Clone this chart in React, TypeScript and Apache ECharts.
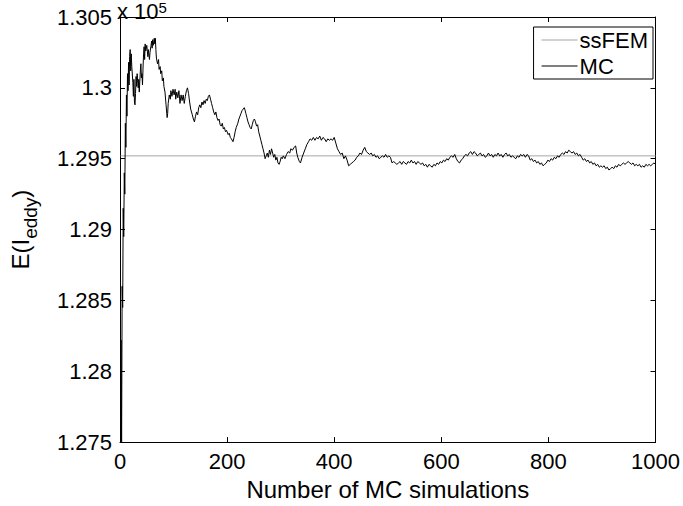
import React, { useEffect, useRef } from "react";
import * as echarts from "echarts";

// Number of MC simulations (x) and running mean E(I_eddy) in units of 1e5 (y)
const mcN = [
  1, 2, 3, 4, 5, 6, 7, 8, 9, 10, 11, 12, 13, 14, 15, 16, 17, 18, 19, 20,
  21, 22, 24, 25, 26, 27, 28, 29, 30, 31, 32, 34, 35, 36, 38, 39, 40, 41, 42, 43,
  44, 45, 46, 47, 48, 50, 52, 53, 55, 56, 58, 59, 60, 61, 62, 64, 65, 66, 67, 68,
  70, 72, 73, 75, 76, 78, 79, 81, 82, 84, 86, 88, 89, 90, 92, 94, 95, 97, 99, 101,
  103, 104, 106, 108, 110, 112, 114, 116, 118, 120, 122, 124, 126, 128, 130, 132, 135, 137, 139, 141,
  143, 145, 147, 149, 151, 153, 155, 157, 159, 161, 163, 165, 167, 169, 171, 173, 175, 177, 179, 181,
  183, 185, 187, 189, 191, 193, 195, 197, 199, 202, 204, 206, 208, 211, 213, 215, 217, 220, 222, 224,
  226, 228, 230, 232, 233, 235, 237, 239, 241, 243, 245, 247, 249, 251, 253, 255, 257, 259, 261, 263,
  265, 267, 269, 271, 273, 275, 277, 279, 281, 283, 285, 287, 289, 291, 293, 295, 297, 299, 301, 303,
  305, 308, 311, 314, 317, 319, 322, 325, 328, 330, 332, 335, 337, 340, 343, 346, 349, 352, 355, 358,
  361, 364, 367, 370, 373, 376, 379, 382, 385, 388, 391, 394, 397, 400, 403, 406, 409, 412, 415, 418,
  421, 424, 427, 430, 433, 436, 439, 442, 445, 448, 451, 454, 457, 460, 463, 466, 469, 472, 475, 478,
  481, 484, 487, 490, 493, 496, 499, 502, 505, 508, 511, 514, 517, 520, 523, 526, 529, 532, 535, 538,
  541, 544, 547, 550, 553, 556, 559, 562, 565, 568, 571, 574, 577, 580, 583, 586, 589, 592, 595, 598,
  601, 604, 607, 610, 613, 616, 619, 622, 625, 628, 631, 634, 637, 640, 643, 646, 649, 652, 655, 658,
  661, 664, 667, 670, 673, 676, 679, 682, 685, 688, 691, 694, 697, 700, 703, 706, 709, 712, 715, 718,
  721, 724, 727, 730, 733, 736, 739, 742, 745, 748, 751, 754, 757, 760, 763, 766, 769, 772, 775, 778,
  781, 784, 787, 790, 793, 796, 799, 802, 805, 808, 811, 814, 817, 820, 823, 826, 829, 832, 835, 838,
  841, 844, 847, 850, 853, 856, 859, 862, 865, 868, 871, 874, 877, 880, 883, 886, 889, 892, 895, 898,
  901, 904, 907, 910, 913, 916, 919, 922, 925, 928, 931, 934, 937, 940, 943, 946, 949, 952, 955, 958,
  961, 964, 967, 970, 973, 976, 979, 982, 985, 988, 991, 994, 997, 1000,
];

const mcE = [
  1.2690, 1.2822, 1.2745, 1.2860, 1.2845, 1.2915, 1.2895, 1.2940, 1.2925, 1.2975, 1.2958, 1.2995, 1.2980, 1.3010, 1.2998, 1.3018, 1.3002, 1.3022, 1.3027, 1.3012,
  1.3024, 1.3015, 1.3004, 1.2994, 1.3006, 1.2990, 1.2988, 1.2996, 1.3008, 1.3001, 1.3010, 1.3000, 1.3006, 1.2997, 1.3012, 1.3017, 1.3007, 1.3010, 1.3002, 1.3014,
  1.3024, 1.3029, 1.3020, 1.3031, 1.3026, 1.3030, 1.3022, 1.3027, 1.3020, 1.3025, 1.3030, 1.3033, 1.3028, 1.3034, 1.3030, 1.3035, 1.3031, 1.3035, 1.3027, 1.3021,
  1.3017, 1.3020, 1.3013, 1.3015, 1.3010, 1.3012, 1.3005, 1.3007, 1.3001, 1.2997, 1.2988, 1.2979, 1.2982, 1.2989, 1.2995, 1.2992, 1.2998, 1.2994, 1.2999, 1.2995,
  1.2999, 1.2992, 1.2997, 1.2993, 1.2998, 1.2989, 1.2995, 1.2991, 1.2995, 1.2989, 1.2994, 1.2998, 1.3000, 1.2996, 1.2990, 1.2985, 1.2981, 1.2978, 1.2976, 1.2980,
  1.2983, 1.2981, 1.2986, 1.2988, 1.2986, 1.2990, 1.2988, 1.2991, 1.2989, 1.2992, 1.2991, 1.2994, 1.2995, 1.2992, 1.2989, 1.2986, 1.2983, 1.2981, 1.2983, 1.2979,
  1.2977, 1.2978, 1.2974, 1.2973, 1.2975, 1.2971, 1.2972, 1.2969, 1.2970, 1.2967, 1.2968, 1.2965, 1.2964, 1.2962, 1.2965, 1.2969, 1.2972, 1.2975, 1.2978, 1.2980,
  1.2982, 1.2984, 1.2985, 1.2986, 1.2985, 1.2982, 1.2979, 1.2976, 1.2974, 1.2972, 1.2971, 1.2974, 1.2977, 1.2978, 1.2976, 1.2973, 1.2974, 1.2969, 1.2966, 1.2963,
  1.2960, 1.2957, 1.2954, 1.2950, 1.2952, 1.2954, 1.2951, 1.2956, 1.2953, 1.2957, 1.2954, 1.2951, 1.2953, 1.2949, 1.2951, 1.2947, 1.2946, 1.2948, 1.2951, 1.2950,
  1.2952, 1.2950, 1.2953, 1.2955, 1.2954, 1.2957, 1.2956, 1.2958, 1.2959, 1.2954, 1.2951, 1.2948, 1.2947, 1.2951, 1.2954, 1.2957, 1.2960, 1.2962, 1.2964, 1.2963,
  1.2965, 1.2963, 1.2965, 1.2964, 1.2966, 1.2963, 1.2965, 1.2964, 1.2962, 1.2964, 1.2963, 1.2964, 1.2963, 1.2965, 1.2961, 1.2957, 1.2955, 1.2953, 1.2954, 1.2950,
  1.2952, 1.2949, 1.2945, 1.2946, 1.2947, 1.2948, 1.2949, 1.2951, 1.2952, 1.2954, 1.2953, 1.2956, 1.2958, 1.2955, 1.2954, 1.2953, 1.2954, 1.2952, 1.2953, 1.2951,
  1.2952, 1.2950, 1.2951, 1.2952, 1.2951, 1.2953, 1.2951, 1.2952, 1.2951, 1.2947, 1.2948, 1.2947, 1.2946, 1.2947, 1.2948, 1.2946, 1.2948, 1.2947, 1.2946, 1.2948,
  1.2947, 1.2949, 1.2947, 1.2948, 1.2946, 1.2948, 1.2947, 1.2946, 1.2947, 1.2945, 1.2946, 1.2944, 1.2946, 1.2945, 1.2944, 1.2946, 1.2945, 1.2947, 1.2946, 1.2948,
  1.2947, 1.2949, 1.2948, 1.2950, 1.2949, 1.2951, 1.2952, 1.2951, 1.2953, 1.2950, 1.2948, 1.2947, 1.2949, 1.2950, 1.2952, 1.2953, 1.2952, 1.2954, 1.2955, 1.2953,
  1.2955, 1.2954, 1.2952, 1.2953, 1.2954, 1.2952, 1.2953, 1.2951, 1.2952, 1.2954, 1.2952, 1.2953, 1.2951, 1.2953, 1.2952, 1.2954, 1.2952, 1.2953, 1.2951, 1.2953,
  1.2954, 1.2952, 1.2953, 1.2951, 1.2952, 1.2951, 1.2950, 1.2952, 1.2951, 1.2953, 1.2952, 1.2953, 1.2951, 1.2953, 1.2952, 1.2949, 1.2950, 1.2948, 1.2949, 1.2947,
  1.2948, 1.2946, 1.2947, 1.2945, 1.2946, 1.2947, 1.2949, 1.2948, 1.2950, 1.2949, 1.2951, 1.2950, 1.2952, 1.2951, 1.2953, 1.2954, 1.2953, 1.2955, 1.2954, 1.2956,
  1.2955, 1.2954, 1.2955, 1.2953, 1.2954, 1.2952, 1.2953, 1.2951, 1.2949, 1.2950, 1.2948, 1.2949, 1.2947, 1.2948, 1.2946, 1.2947, 1.2945, 1.2946, 1.2944, 1.2945,
  1.2944, 1.2945, 1.2943, 1.2944, 1.2942, 1.2943, 1.2944, 1.2943, 1.2945, 1.2944, 1.2946, 1.2945, 1.2946, 1.2947, 1.2946, 1.2947, 1.2948, 1.2947, 1.2946, 1.2947,
  1.2945, 1.2946, 1.2945, 1.2946, 1.2944, 1.2945, 1.2944, 1.2946, 1.2945, 1.2946, 1.2945, 1.2946, 1.2947, 1.2946,
];

const ssfemN = [1, 1000];
const ssfemE = [1.2952, 1.2952];

const xTicks = { min: 0, max: 1000, interval: 200 };
const yTicks = { min: 1.275, max: 1.305, interval: 0.005 };

const FONT = "'Liberation Sans', Arial, sans-serif";
const FS = 22;

export default function App() {
  const ref = useRef<HTMLDivElement>(null);

  useEffect(() => {
    if (!ref.current) return;
    const chart = echarts.init(ref.current, null, { renderer: "svg" });

    const mcData = mcN.map((n, i) => [n, mcE[i]]);
    const ssData = ssfemN.map((n, i) => [n, ssfemE[i]]);

    const fmtY = (v: number) => String(+v.toFixed(3));
    const fmtX = (v: number) => String(v);

    const baseX = {
      type: "value" as const,
      min: xTicks.min,
      max: xTicks.max,
      interval: xTicks.interval,
      splitLine: { show: false },
      axisLine: { show: true, onZero: false, lineStyle: { color: "#000", width: 1 } },
      axisTick: { show: true, inside: true, length: 5, lineStyle: { color: "#000" } },
    };
    const baseY = {
      type: "value" as const,
      min: yTicks.min,
      max: yTicks.max,
      interval: yTicks.interval,
      splitLine: { show: false },
      axisLine: { show: true, onZero: false, lineStyle: { color: "#000", width: 1 } },
      axisTick: { show: true, inside: true, length: 5, lineStyle: { color: "#000" } },
    };

    chart.setOption({
      animation: false,
      backgroundColor: "#fff",
      textStyle: { fontFamily: FONT },
      grid: { left: 116, right: 20, top: 17, bottom: 44, containLabel: false },
      xAxis: [
        {
          ...baseX,
          position: "bottom",
          name: "Number of MC simulations",
          nameLocation: "middle",
          nameGap: 25,
          nameTextStyle: { fontSize: 24, color: "#000", fontFamily: FONT },
          axisLabel: { fontSize: FS, color: "#000", margin: 8, formatter: fmtX, fontFamily: FONT },
        },
        {
          ...baseX,
          position: "top",
          axisLabel: { show: false },
        },
      ],
      yAxis: [
        {
          ...baseY,
          position: "left",
          name: "{a|E(I}{b|eddy}{a|)}",
          nameLocation: "middle",
          nameGap: 80,
          nameRotate: 90,
          nameTextStyle: {
            color: "#000",
            fontFamily: FONT,
            rich: {
              a: { fontSize: 24, lineHeight: 32, verticalAlign: "top", color: "#000", fontFamily: FONT },
              b: { fontSize: 19, lineHeight: 19, verticalAlign: "bottom", color: "#000", fontFamily: FONT },
            },
          },
          axisLabel: { fontSize: FS, color: "#000", margin: 8, formatter: fmtY, fontFamily: FONT },
        },
        {
          ...baseY,
          position: "right",
          axisLabel: { show: false },
        },
      ],
      legend: {
        orient: "vertical",
        right: 30,
        top: 27,
        backgroundColor: "#fff",
        borderColor: "#000",
        borderWidth: 1,
        borderRadius: 0,
        padding: [2, 5, 2, 8],
        itemGap: 4,
        itemWidth: 36,
        itemHeight: 1,
        icon: "rect",
        textStyle: { fontSize: FS, color: "#000", fontFamily: FONT, padding: [0, 0, 0, -3] },
        data: ["ssFEM", "MC"],
      },
      graphic: [
        {
          type: "text",
          left: 117,
          top: 0,
          style: {
            text: "x 10{s|5}",
            fontSize: FS,
            fontFamily: FONT,
            fill: "#000",
            rich: {
              s: { fontSize: 15, lineHeight: 12, verticalAlign: "top", fontFamily: FONT, fill: "#000" },
            },
            lineHeight: 22,
            verticalAlign: "bottom",
          },
        },
      ],
      series: [
        {
          name: "ssFEM",
          type: "line",
          data: ssData,
          xAxisIndex: 0,
          yAxisIndex: 0,
          symbol: "none",
          color: "#a6a6a6",
          lineStyle: { color: "#a6a6a6", width: 1 },
          clip: true,
        },
        {
          name: "MC",
          type: "line",
          data: mcData,
          xAxisIndex: 0,
          yAxisIndex: 0,
          symbol: "none",
          color: "#000",
          lineStyle: { color: "#000", width: 1 },
          clip: true,
        },
      ],
    });

    return () => chart.dispose();
  }, []);

  return (
    <div
      ref={ref}
      style={{ position: "fixed", left: 0, top: 0, width: 683, height: 506, background: "#fff" }}
    />
  );
}
